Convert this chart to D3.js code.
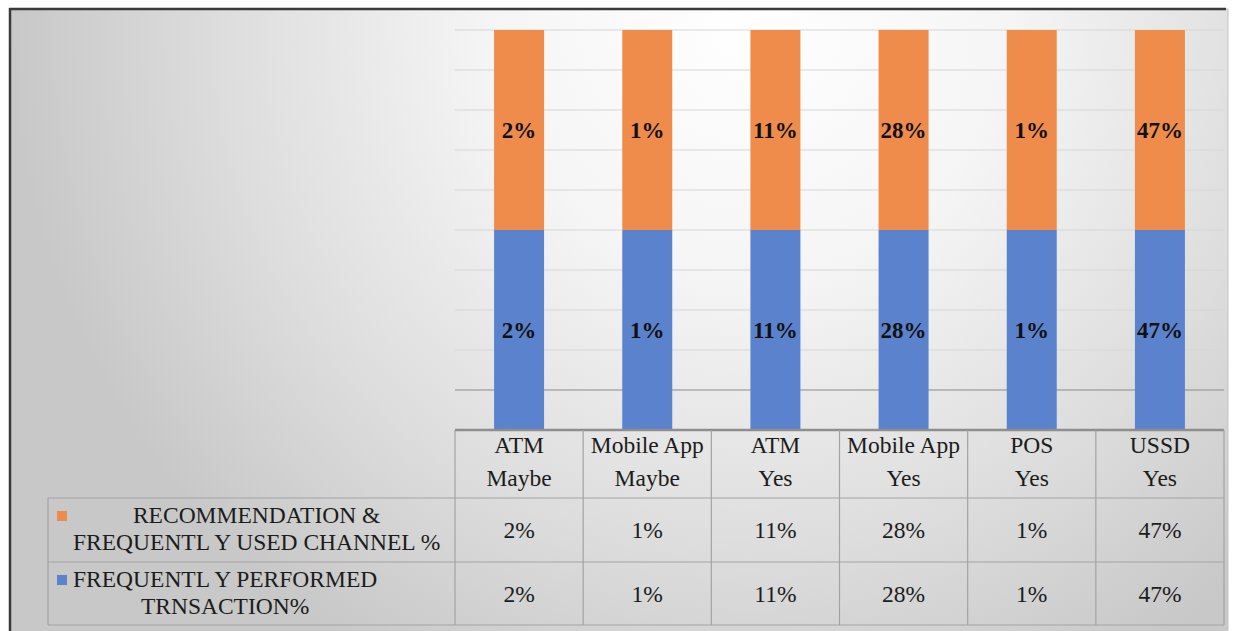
<!DOCTYPE html>
<html>
<head>
<meta charset="utf-8">
<script src="https://cdn.jsdelivr.net/npm/d3@7/dist/d3.min.js"></script>
<style>
  html, body { margin: 0; padding: 0; background: #ffffff; }
  svg { display: block; }
  svg text { font-family: "Liberation Serif", "Times New Roman", Times, "DejaVu Serif", serif; fill: #1c1c1c; }
</style>
</head>
<body>
<script>
// ---- data ----
const channels  = ["ATM", "Mobile App", "ATM", "Mobile App", "POS", "USSD"];
const responses = ["Maybe", "Maybe", "Yes", "Yes", "Yes", "Yes"];
const recommendationPct = [2, 1, 11, 28, 1, 47];   // RECOMMENDATION & FREQUENTL Y USED CHANNEL %
const performedPct      = [2, 1, 11, 28, 1, 47];   // FREQUENTL Y PERFORMED TRNSACTION%
const seriesNames = [
  ["RECOMMENDATION &", "FREQUENTL Y USED CHANNEL %"],
  ["FREQUENTL Y PERFORMED", "TRNSACTION%"]
];
const gridTicks = [0, 0.1, 0.2, 0.3, 0.4, 0.5, 0.6, 0.7, 0.8, 0.9, 1.0];

const W = 1234, H = 631;
const colors = { rec: "#ef8c4b", perf: "#5a82cd" };
const FONT = '"Liberation Serif", "Times New Roman", Times, "DejaVu Serif", serif';

const categories = channels.map((c, i) => c + " " + responses[i]);
const rows = categories.map((c, i) => ({ cat: c, perf: performedPct[i], rec: recommendationPct[i] }));

const svg = d3.select("body").append("svg").attr("width", W).attr("height", H)
  .attr("font-family", FONT);

// background gradient
const defs = svg.append("defs");
const rg = defs.append("radialGradient").attr("id", "bg")
  .attr("gradientUnits", "userSpaceOnUse")
  .attr("cx", 750).attr("cy", 20).attr("r", 740);
rg.append("stop").attr("offset", "0").attr("stop-color", "#ffffff");
rg.append("stop").attr("offset", "0.35").attr("stop-color", "#f5f5f5");
rg.append("stop").attr("offset", "0.7").attr("stop-color", "#dedede");
rg.append("stop").attr("offset", "1").attr("stop-color", "#c8c8c8");

svg.append("rect").attr("x", 10).attr("y", 9).attr("width", 1218).attr("height", 640)
  .attr("fill", "url(#bg)").attr("stroke", "#c4c4c4").attr("stroke-width", 1);
// dark top & left frame edges
svg.append("line").attr("x1", 9).attr("x2", 1226).attr("y1", 9).attr("y2", 9)
  .attr("stroke", "#3a3a3a").attr("stroke-width", 2.5);
svg.append("line").attr("x1", 10).attr("x2", 10).attr("y1", 8).attr("y2", 631)
  .attr("stroke", "#3a3a3a").attr("stroke-width", 2.5);

// scales
const plotL = 455, plotR = 1224, plotT = 30, plotB = 430;
const x = d3.scaleBand().domain(categories).range([plotL, plotR]).paddingInner(0.61).paddingOuter(0.305);
const y = d3.scaleLinear().domain([0, 1]).range([plotB, plotT]);
const step = x.step();

// gridlines
svg.append("g").selectAll("line").data(gridTicks.slice(1)).join("line")
  .attr("x1", plotL).attr("x2", plotR)
  .attr("y1", d => y(d)).attr("y2", d => y(d))
  .attr("stroke", d => Math.abs(d - 0.1) < 1e-9 ? "#8a8a8a" : "#d6d6d6")
  .attr("stroke-width", 1);

// stacked 100% bars
const keys = ["perf", "rec"];
const stack = d3.stack().keys(keys).offset(d3.stackOffsetExpand);
const stacked = stack(rows);

const gBars = svg.append("g");
stacked.forEach(layer => {
  gBars.append("g").selectAll("rect").data(layer).join("rect")
    .attr("x", d => x(d.data.cat))
    .attr("width", x.bandwidth())
    .attr("y", d => y(d[1]))
    .attr("height", d => y(d[0]) - y(d[1]))
    .attr("fill", colors[layer.key]);
  gBars.append("g").selectAll("text").data(layer).join("text")
    .attr("x", d => x(d.data.cat) + x.bandwidth() / 2)
    .attr("y", d => y((d[0] + d[1]) / 2))
    .attr("dy", "0.35em")
    .attr("text-anchor", "middle")
    .attr("font-size", 23).attr("font-weight", "bold")
    .style("fill", "#111")
    .text(d => d.data[layer.key] + "%");
});

// ---- data table ----
const tbl = svg.append("g");
const headB = 498, row1B = 562, row2B = 625, legL = 48;
const lineCol = "#a3a3a3";
tbl.append("line").attr("x1", plotL).attr("x2", plotR).attr("y1", plotB).attr("y2", plotB)
  .attr("stroke", "#8e8e8e").attr("stroke-width", 2.5);
[headB, row1B, row2B].forEach(yy => {
  tbl.append("line").attr("x1", legL).attr("x2", plotR).attr("y1", yy).attr("y2", yy)
    .attr("stroke", lineCol).attr("stroke-width", 1.2);
});
d3.range(categories.length + 1).forEach(i => {
  const xx = plotL + i * step;
  tbl.append("line").attr("x1", xx).attr("x2", xx).attr("y1", plotB).attr("y2", row2B)
    .attr("stroke", lineCol).attr("stroke-width", 1.2);
});
tbl.append("line").attr("x1", legL).attr("x2", legL).attr("y1", headB).attr("y2", row2B)
  .attr("stroke", lineCol).attr("stroke-width", 1.2);

// header labels
categories.forEach((c, i) => {
  const cx = x(c) + x.bandwidth() / 2;
  tbl.append("text").attr("x", cx).attr("y", 453).attr("text-anchor", "middle")
    .attr("font-size", 23.5).text(channels[i]);
  tbl.append("text").attr("x", cx).attr("y", 486).attr("text-anchor", "middle")
    .attr("font-size", 23.5).text(responses[i]);
});
// values
const tableRows = [
  { vals: recommendationPct, cy: (headB + row1B) / 2, color: colors.rec, names: seriesNames[0] },
  { vals: performedPct, cy: (row1B + row2B) / 2, color: colors.perf, names: seriesNames[1] }
];
tableRows.forEach(r => {
  categories.forEach((c, i) => {
    tbl.append("text").attr("x", x(c) + x.bandwidth() / 2).attr("y", r.cy).attr("dy", "0.35em")
      .attr("text-anchor", "middle").attr("font-size", 23.5).text(r.vals[i] + "%");
  });
});

// legend entries in first column
const textStart = 73, lineGap = 26.5, fsLeg = 23.5;
tableRows.forEach((r, ri) => {
  const b1 = ri === 0 ? 523 : 587;
  const t1 = tbl.append("text").attr("y", b1).attr("font-size", fsLeg).text(r.names[0]);
  const t2 = tbl.append("text").attr("y", b1 + lineGap).attr("font-size", fsLeg).text(r.names[1]);
  const w1 = t1.node().getComputedTextLength();
  const w2 = t2.node().getComputedTextLength();
  const wMax = Math.max(w1, w2);
  const center = textStart + wMax / 2;
  t1.attr("x", center).attr("text-anchor", "middle");
  t2.attr("x", center).attr("text-anchor", "middle");
  tbl.append("rect").attr("x", 57).attr("y", b1 - 12).attr("width", 10).attr("height", 10)
    .attr("fill", r.color);
});
</script>
</body>
</html>
